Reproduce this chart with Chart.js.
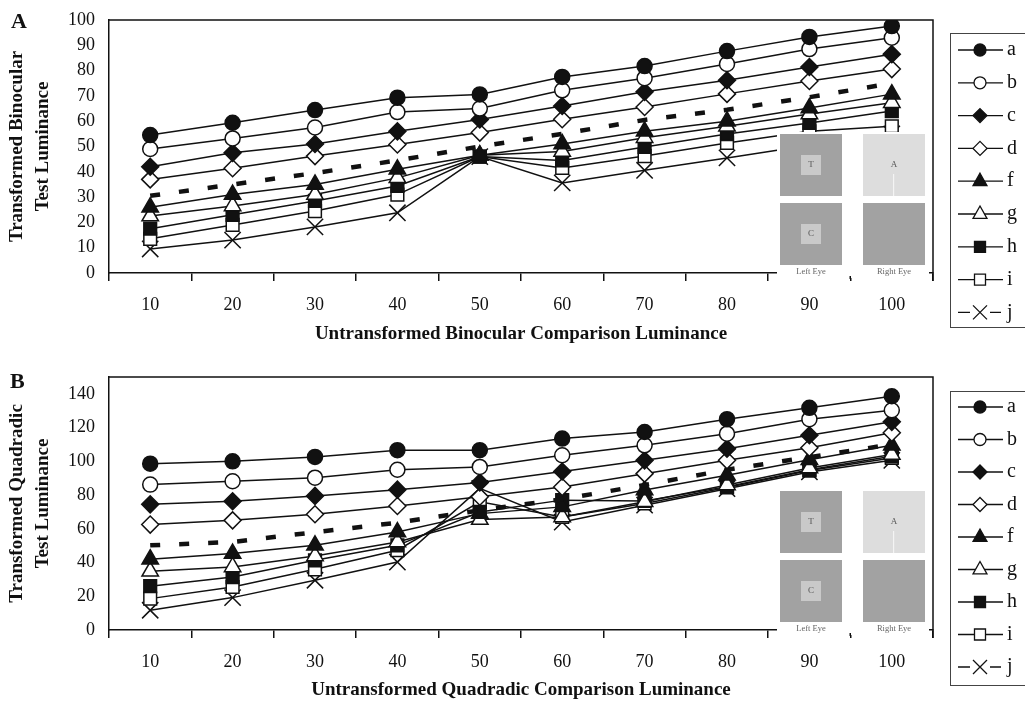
<!DOCTYPE html>
<html>
<head>
<meta charset="utf-8">
<script src="https://cdn.jsdelivr.net/npm/chart.js@4.4.1/dist/chart.umd.min.js"></script>
<style>
  html, body { margin: 0; padding: 0; background: #fff; }
  .panel { position: relative; width: 1025px; }
  canvas { display: block; }
</style>
</head>
<body>
<div class="panel"><canvas id="binocularChart" width="1025" height="345"></canvas></div>
<div class="panel"><canvas id="quadradicChart" width="1025" height="356"></canvas></div>
<script>
// categorias del eje x
const categories = ['10', '20', '30', '40', '50', '60', '70', '80', '90', '100'];
const topYTicks = [0, 10, 20, 30, 40, 50, 60, 70, 80, 90, 100];
const bottomYTicks = [0, 20, 40, 60, 80, 100, 120, 140];
const seriesNames = ['a', 'b', 'c', 'd', 'e', 'f', 'g', 'h', 'i', 'j'];

// Panel A - binocular
const topA = [54.5, 59.4, 64.4, 69.3, 70.6, 77.5, 81.8, 87.7, 93.3, 97.6];
const topB = [49, 53.2, 57.5, 63.6, 65, 72.2, 77, 82.6, 88.5, 93];
const topC = [42, 47.5, 51, 56, 60.7, 66, 71.6, 76.2, 81.4, 86.5];
const topD = [37, 41.4, 46.2, 50.8, 55.5, 60.8, 65.6, 70.8, 75.9, 80.6];
const topE = [30.5, 35, 39.5, 44.5, 50, 55, 60.5, 64.5, 69.5, 75];
const topF = [26, 31, 35, 41, 46.5, 51, 56, 60, 65.2, 70.7];
const topG = [22.5, 26.5, 31, 37.6, 46.5, 48, 53.5, 58, 62.8, 67.3];
const topH = [17.5, 23, 28.5, 34.4, 46, 44.5, 49.8, 54.9, 59.3, 64];
const topI = [13.5, 19, 24.5, 31, 46, 41.5, 46.2, 51.4, 56, 58];
const topJ = [9.5, 13, 18.2, 23.8, 46, 35.6, 40.6, 45.5, 50.5, 55];

// Panel B - quadradic
const botA = [98.6, 100, 102.6, 106.6, 106.6, 113.5, 117.4, 125, 131.7, 138.6];
const botB = [86.2, 88.2, 90.3, 95, 96.7, 103.6, 109.5, 116.4, 125, 130.3];
const botC = [74.5, 76.3, 79.5, 83.2, 87.5, 94, 100.6, 107.5, 115.5, 123.4];
const botD = [62.5, 65, 68.6, 73.5, 79, 84.8, 92.7, 100.6, 108, 117];
const botE = [50.2, 52.2, 58, 63.6, 71, 77.5, 86, 95, 102.5, 110];
const botF = [42, 45.3, 50.2, 58.1, 69, 73, 83, 91.7, 101, 109.5];
const botG = [34.8, 37.4, 43.9, 52.2, 65.5, 67, 76, 86, 96, 104];
const botH = [26, 31.4, 41.3, 50.2, 70, 77, 76.5, 85, 95, 103];
const botI = [18.6, 25.5, 36, 47.3, 76, 67, 75, 84.5, 94.5, 102];
const botJ = [11.7, 19.2, 29.5, 40.3, 84, 64, 74, 83.8, 93.7, 100.6];

const INK = '#111';
const SERIF = "'Liberation Serif', 'Times New Roman', serif";

// estilo de marcador por serie
const markerStyles = {
    a: { shape: 'circle', fill: INK, r: 7.5 },
    b: { shape: 'circle', fill: '#fff', r: 7.5 },
    c: { shape: 'rectRot', fill: INK, r: 8.5 },
    d: { shape: 'rectRot', fill: '#fff', r: 8.5 },
    e: { shape: false },
    f: { shape: 'triangle', fill: INK, r: 9.5 },
    g: { shape: 'triangle', fill: '#fff', r: 9.5 },
    h: { shape: 'rect', fill: INK, r: 9 },
    i: { shape: 'rect', fill: '#fff', r: 9 },
    j: { shape: 'crossRot', fill: INK, r: 11.5 }
};

function buildDatasets(valuesList) {
    return valuesList.map((values, idx) => {
        const name = seriesNames[idx];
        const m = markerStyles[name];
        if (!m.shape) {
            return {
                label: name, data: values, borderColor: INK, borderWidth: 4.5,
                borderDash: [10, 19], borderCapStyle: 'butt', pointRadius: 0,
                tension: 0, fill: false, hideInLegend: true
            };
        }
        return {
            label: name, data: values, borderColor: INK, borderWidth: 1.5,
            pointStyle: m.shape, pointRadius: m.r, pointHoverRadius: m.r,
            pointBackgroundColor: m.fill, pointBorderColor: INK, pointBorderWidth: 1.5,
            tension: 0, fill: false
        };
    });
}

function drawMarker(ctx, shape, x, y, r, fill) {
    ctx.save();
    ctx.fillStyle = fill;
    ctx.strokeStyle = INK;
    ctx.lineWidth = 1.3;
    ctx.beginPath();
    if (shape === 'circle') {
        ctx.arc(x, y, r, 0, Math.PI * 2);
    } else if (shape === 'rectRot') {
        ctx.moveTo(x, y - r); ctx.lineTo(x + r, y); ctx.lineTo(x, y + r); ctx.lineTo(x - r, y);
        ctx.closePath();
    } else if (shape === 'triangle') {
        ctx.moveTo(x, y - r); ctx.lineTo(x + r * 0.87, y + r * 0.55); ctx.lineTo(x - r * 0.87, y + r * 0.55);
        ctx.closePath();
    } else if (shape === 'rect') {
        ctx.rect(x - r, y - r, 2 * r, 2 * r);
    } else if (shape === 'crossRot') {
        ctx.moveTo(x - r, y - r); ctx.lineTo(x + r, y + r);
        ctx.moveTo(x + r, y - r); ctx.lineTo(x - r, y + r);
        ctx.stroke();
        ctx.restore();
        return;
    }
    ctx.fill();
    ctx.stroke();
    ctx.restore();
}

// letras, marco, recuadro de estímulos y leyenda
const decorPlugin = {
    id: 'decor',
    afterDraw(chart, args, opts) {
        const ctx = chart.ctx;
        const area = chart.chartArea;
        ctx.save();
        // marco superior y derecho
        ctx.strokeStyle = INK;
        ctx.lineWidth = 1.5;
        ctx.beginPath();
        ctx.moveTo(area.left, area.top); ctx.lineTo(area.right, area.top);
        ctx.lineTo(area.right, area.bottom + 8);
        ctx.stroke();

        // letra del panel
        ctx.fillStyle = INK;
        ctx.font = 'bold 22px ' + SERIF;
        ctx.textAlign = 'left';
        ctx.textBaseline = 'alphabetic';
        ctx.fillText(opts.letter, opts.letterX, opts.letterY);

        // recuadro de estímulos
        const row1 = area.bottom - 139, row2 = area.bottom - 70;
        const leftX = 780, rightX = 863, sz = 62;
        ctx.fillStyle = '#fff';
        ctx.fillRect(leftX - 3, row1 - 2, 152, area.bottom + 5 - (row1 - 2));
        ctx.fillStyle = INK;
        ctx.fillRect(849.5, area.bottom + 3, 1.5, 3);
        ctx.fillStyle = '#a2a2a2';
        ctx.fillRect(leftX, row1, sz, sz);
        ctx.fillRect(leftX, row2, sz, sz);
        ctx.fillRect(rightX, row2, sz, sz);
        ctx.fillStyle = '#dddddd';
        ctx.fillRect(rightX, row1, sz, sz);
        ctx.fillStyle = '#f4f4f4';
        ctx.fillRect(rightX + 30, row1 + 40, 1.2, sz - 40);
        ctx.fillStyle = '#c9c9c9';
        ctx.fillRect(leftX + 21, row1 + 21, 20, 20);
        ctx.fillRect(leftX + 21, row2 + 21, 20, 20);
        ctx.fillStyle = '#555';
        ctx.font = '9px ' + SERIF;
        ctx.textAlign = 'center';
        ctx.textBaseline = 'middle';
        ctx.fillText('T', leftX + 31, row1 + 31);
        ctx.fillText('C', leftX + 31, row2 + 31);
        ctx.fillText('A', rightX + 31, row1 + 31);
        ctx.fillStyle = '#666';
        ctx.font = '8.5px ' + SERIF;
        ctx.fillText('Left Eye', leftX + 31, area.bottom - 1);
        ctx.fillText('Right Eye', rightX + 31, area.bottom - 1);

        // leyenda
        const lg = opts.legend;
        ctx.strokeStyle = '#444';
        ctx.lineWidth = 1;
        ctx.strokeRect(lg.x + 0.5, lg.top + 0.5, 100, lg.bottom - lg.top);
        const items = chart.data.datasets.filter(ds => !ds.hideInLegend);
        items.forEach((ds, k) => {
            const y = lg.first + k * lg.step;
            const m = markerStyles[ds.label];
            ctx.strokeStyle = INK;
            ctx.lineWidth = 1.3;
            ctx.beginPath();
            if (m.shape === 'crossRot') {
                ctx.moveTo(lg.x + 8, y); ctx.lineTo(lg.x + 20, y);
                ctx.moveTo(lg.x + 40, y); ctx.lineTo(lg.x + 51, y);
            } else {
                ctx.moveTo(lg.x + 8, y); ctx.lineTo(lg.x + 53, y);
            }
            ctx.stroke();
            const lr = { circle: 6, rectRot: 7, triangle: 8, rect: 5.5, crossRot: 7 }[m.shape];
            drawMarker(ctx, m.shape, lg.x + 30, y, lr, m.fill);
            ctx.fillStyle = INK;
            ctx.font = '20px ' + SERIF;
            ctx.textAlign = 'left';
            ctx.textBaseline = 'middle';
            ctx.fillText(ds.label, lg.x + 57, y);
        });
        ctx.restore();
    }
};

function makeOptions(cfg) {
    return {
        responsive: false,
        animation: false,
        devicePixelRatio: 1,
        layout: { padding: { top: cfg.padTop, right: 92, left: 0, bottom: 0 } },
        plugins: {
            legend: { display: false },
            tooltip: { enabled: false },
            decor: cfg.decor
        },
        scales: {
            x: {
                type: 'category',
                offset: true,
                grid: { offset: true, drawOnChartArea: false, drawTicks: true, tickLength: 8, color: INK, lineWidth: 1.5 },
                border: { display: true, color: INK, width: 1.5 },
                ticks: { color: INK, font: { family: SERIF, size: 18 }, padding: 13, autoSkip: false, maxRotation: 0 },
                title: { display: true, text: cfg.xTitle, color: INK, font: { family: SERIF, size: 19, weight: 'bold', lineHeight: 1.1 }, padding: { top: 0, bottom: 0 } },
                afterFit: s => { s.height = cfg.xHeight; }
            },
            y: {
                min: 0,
                max: cfg.yMax,
                afterBuildTicks: s => { s.ticks = cfg.yTicks.map(v => ({ value: v })); },
                grid: { drawOnChartArea: false, drawTicks: false },
                border: { display: true, color: INK, width: 1.5 },
                ticks: { color: INK, font: { family: SERIF, size: 18 }, padding: 14 },
                title: { display: true, text: cfg.yTitle, color: INK, font: { family: SERIF, size: 19, weight: 'bold', lineHeight: 1.32 }, padding: { top: 5, bottom: 0 } },
                afterFit: s => { s.width = 109; s.paddingTop = 0; s.paddingBottom = 0; }
            }
        }
    };
}

function initializeChart(id, datasets, cfg) {
    const ctx = document.getElementById(id)?.getContext('2d');
    if (!ctx) return null;
    return new Chart(ctx, {
        type: 'line',
        data: { labels: categories, datasets: datasets },
        options: makeOptions(cfg),
        plugins: [decorPlugin]
    });
}

initializeChart('binocularChart', buildDatasets([topA, topB, topC, topD, topE, topF, topG, topH, topI, topJ]), {
    padTop: 20, xHeight: 72, yMax: 100, yTicks: topYTicks,
    xTitle: 'Untransformed Binocular Comparison Luminance',
    yTitle: ['Transformed Binocular', 'Test Luminance'],
    decor: { letter: 'A', letterX: 11, letterY: 28, legend: { x: 950, top: 33, bottom: 327, first: 50, step: 32.8 } }
});

initializeChart('quadradicChart', buildDatasets([botA, botB, botC, botD, botE, botF, botG, botH, botI, botJ]), {
    padTop: 32, xHeight: 71, yMax: 150, yTicks: bottomYTicks,
    xTitle: 'Untransformed Quadradic Comparison Luminance',
    yTitle: ['Transformed Quadradic', 'Test Luminance'],
    decor: { letter: 'B', letterX: 10, letterY: 43, legend: { x: 950, top: 46, bottom: 340, first: 62, step: 32.5 } }
});
</script>
</body>
</html>
